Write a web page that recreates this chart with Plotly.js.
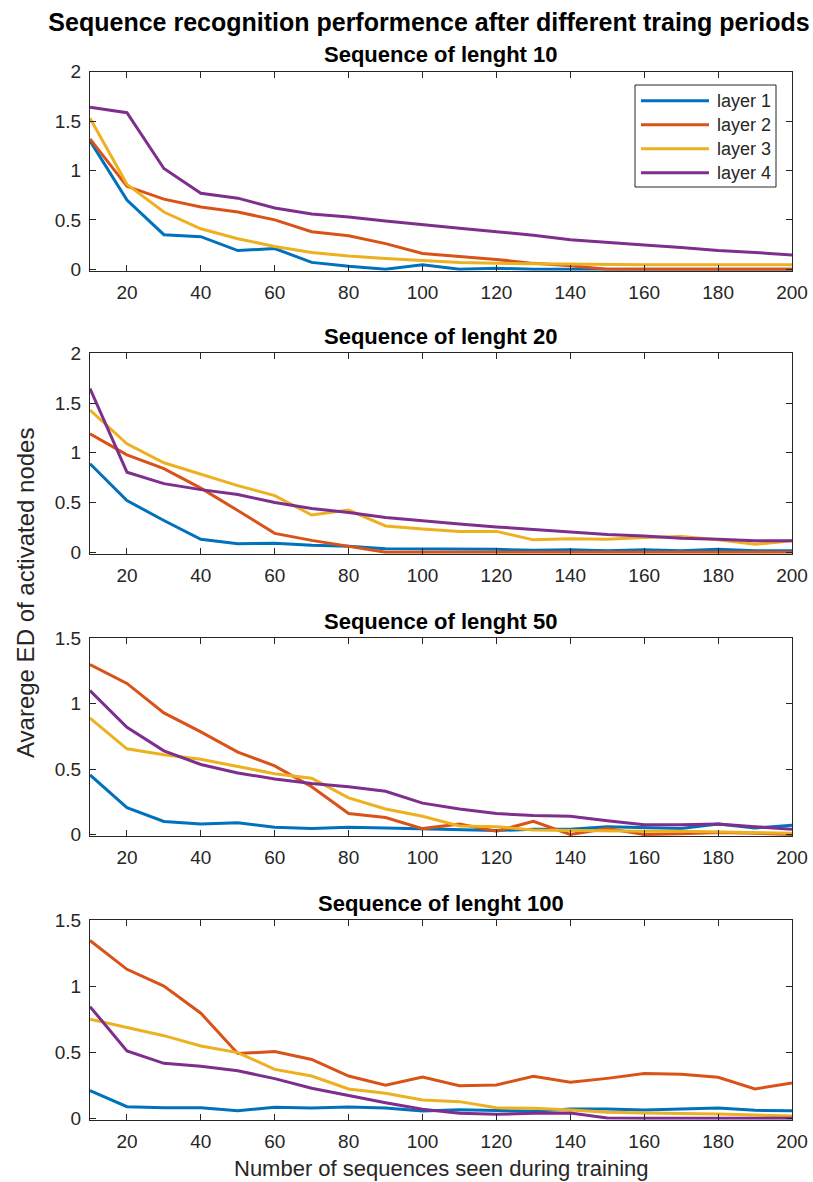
<!DOCTYPE html>
<html>
<head>
<meta charset="utf-8">
<script src="https://cdn.plot.ly/plotly-3.0.1.min.js"></script>
<style>html,body{margin:0;padding:0;background:#fff;}#chart{width:813px;height:1182px;}</style>
</head>
<body>
<div id="chart"></div>
<script>
// ---------------- data ----------------
const sequencesSeen = [10,20,30,40,50,60,70,80,90,100,110,120,130,140,150,160,170,180,190,200];
const layerNames = ["layer 1","layer 2","layer 3","layer 4"];
const layerColors = ["#0072BD","#D95319","#EDB120","#7E2F8E"];
const panelTitles = ["Sequence of lenght 10","Sequence of lenght 20","Sequence of lenght 50","Sequence of lenght 100"];
const mainTitle = "Sequence recognition performence after different traing periods";
const xLabel = "Number of sequences seen during training";
const yLabel = "Avarege ED of activated nodes";
const xTicks = [20,40,60,80,100,120,140,160,180,200];
const yTicksA = [0,0.5,1,1.5,2];
const yTicksB = [0,0.5,1,1.5];

const len10_layer1 = [1.30,0.70,0.35,0.33,0.19,0.21,0.07,0.03,0.0,0.045,0.0,0.01,0.0,0.0,0.0,0.0,0.0,0.0,0.0,0.0];
const len10_layer2 = [1.32,0.84,0.71,0.63,0.58,0.50,0.38,0.34,0.26,0.16,0.13,0.10,0.06,0.035,0.0,0.0,0.0,0.0,0.0,0.0];
const len10_layer3 = [1.53,0.86,0.58,0.41,0.31,0.23,0.17,0.135,0.11,0.09,0.07,0.06,0.055,0.05,0.045,0.045,0.045,0.045,0.045,0.045];
const len10_layer4 = [1.64,1.585,1.02,0.77,0.72,0.62,0.56,0.53,0.49,0.45,0.415,0.38,0.345,0.30,0.27,0.245,0.22,0.19,0.17,0.145];

const len20_layer1 = [0.89,0.52,0.32,0.13,0.085,0.09,0.07,0.06,0.035,0.035,0.035,0.03,0.02,0.025,0.015,0.025,0.015,0.03,0.015,0.015];
const len20_layer2 = [1.19,0.98,0.84,0.645,0.42,0.19,0.12,0.057,0.0,0.0,0.0,0.0,0.0,0.0,0.0,0.0,0.0,0.0,0.0,0.0];
const len20_layer3 = [1.43,1.09,0.90,0.785,0.67,0.57,0.375,0.425,0.265,0.235,0.21,0.21,0.125,0.135,0.13,0.15,0.16,0.125,0.08,0.115];
const len20_layer4 = [1.645,0.805,0.69,0.63,0.58,0.50,0.44,0.40,0.35,0.315,0.285,0.255,0.23,0.205,0.18,0.165,0.14,0.13,0.115,0.115];

const len50_layer1 = [0.455,0.205,0.10,0.08,0.09,0.055,0.045,0.055,0.05,0.045,0.04,0.03,0.04,0.04,0.06,0.055,0.045,0.08,0.05,0.07];
const len50_layer2 = [1.30,1.155,0.93,0.785,0.63,0.525,0.365,0.16,0.13,0.045,0.08,0.025,0.10,0.0,0.045,0.0,0.005,0.015,0.01,0.0];
const len50_layer3 = [0.89,0.655,0.61,0.575,0.52,0.465,0.43,0.28,0.195,0.14,0.065,0.06,0.035,0.03,0.03,0.025,0.025,0.02,0.015,0.01];
const len50_layer4 = [1.10,0.82,0.64,0.535,0.47,0.425,0.39,0.365,0.33,0.24,0.195,0.16,0.145,0.14,0.105,0.075,0.075,0.08,0.06,0.04];

const len100_layer1 = [0.21,0.088,0.08,0.08,0.058,0.083,0.078,0.085,0.078,0.055,0.065,0.058,0.053,0.07,0.07,0.063,0.07,0.078,0.06,0.058];
const len100_layer2 = [1.345,1.127,1.0,0.795,0.49,0.505,0.445,0.32,0.25,0.313,0.247,0.252,0.318,0.272,0.302,0.338,0.333,0.31,0.222,0.267];
const len100_layer3 = [0.75,0.69,0.625,0.547,0.497,0.37,0.32,0.222,0.19,0.139,0.126,0.08,0.076,0.063,0.045,0.04,0.038,0.033,0.025,0.018];
const len100_layer4 = [0.845,0.51,0.416,0.393,0.36,0.30,0.227,0.17,0.118,0.068,0.038,0.03,0.038,0.04,0.003,0.0,0.0,0.0,0.0,0.0];

const yMaxes = [2,2,1.5,1.5];

// ---------------- build ----------------
const W = 813, H = 1182;
const panels = [
  [len10_layer1,len10_layer2,len10_layer3,len10_layer4],
  [len20_layer1,len20_layer2,len20_layer3,len20_layer4],
  [len50_layer1,len50_layer2,len50_layer3,len50_layer4],
  [len100_layer1,len100_layer2,len100_layer3,len100_layer4]
];
// plot-area pixel boxes (top, bottom)
const boxes = [[71.7,269.3],[353.3,552.3],[638.3,834.5],[920,1118.3]];
const xLeft = 90, xRight = 792;
const FONT = "Liberation Sans, Arial, Helvetica, sans-serif";
const AX = "#262626";
const LW = 3;
const pad = 1.4; // px below zero so lines lying on 0 are not half clipped

const traces = [];
panels.forEach((series, p) => {
  series.forEach((vals, i) => {
    traces.push({
      type: "scatter", mode: "lines",
      x: sequencesSeen, y: vals,
      name: layerNames[i],
      showlegend: false,
      line: {color: layerColors[i], width: LW},
      xaxis: p === 0 ? "x" : "x" + (p + 1),
      yaxis: p === 0 ? "y" : "y" + (p + 1),
      hoverinfo: "skip"
    });
  });
});

const layout = {
  width: W, height: H,
  margin: {l: 0, r: 0, t: 0, b: 0},
  paper_bgcolor: "#fff", plot_bgcolor: "#fff",
  font: {family: FONT, color: AX, size: 19},
  showlegend: false,
  title: {
    text: "<b>" + mainTitle + "</b>",
    font: {family: FONT, size: 25, color: "#000"},
    x: 429 / W, xanchor: "center", xref: "paper",
    y: 1 - 22 / H, yanchor: "middle", yref: "paper"
  },
  annotations: [],
  shapes: []
};

boxes.forEach((b, p) => {
  const sfx = p === 0 ? "" : String(p + 1);
  const yt = yMaxes[p] === 2 ? yTicksA : yTicksB;
  const pxPerUnit = (b[1] - b[0]) / yMaxes[p];
  layout["xaxis" + sfx] = {
    domain: [xLeft / W, xRight / W],
    anchor: "y" + sfx,
    range: [10, 200],
    tickvals: xTicks,
    ticktext: xTicks.map(String),
    ticks: "inside", ticklen: 6, tickwidth: 1, tickcolor: AX,
    showline: true, linecolor: AX, linewidth: 1, mirror: "ticks",
    showgrid: false, zeroline: false,
    tickfont: {family: FONT, size: 19, color: AX},
    ticklabelstandoff: 4
  };
  layout["yaxis" + sfx] = {
    domain: [1 - (b[1] + pad) / H, 1 - b[0] / H],
    anchor: "x" + sfx,
    range: [-pad / pxPerUnit, yMaxes[p]],
    tickvals: yt,
    ticktext: yt.map(String),
    ticks: "inside", ticklen: 6, tickwidth: 1, tickcolor: AX,
    showline: true, linecolor: AX, linewidth: 1, mirror: "ticks",
    showgrid: false, zeroline: false,
    tickfont: {family: FONT, size: 19, color: AX},
    ticklabelstandoff: 4
  };
  layout.annotations.push({
    text: "<b>" + panelTitles[p] + "</b>",
    xref: "paper", yref: "paper",
    x: (xLeft + xRight) / 2 / W, y: 1 - b[0] / H,
    xanchor: "center", yanchor: "middle", yshift: 17,
    showarrow: false,
    font: {family: FONT, size: 22, color: "#000"}
  });
});

// axis labels
layout.annotations.push({
  text: xLabel, xref: "paper", yref: "paper",
  x: (xLeft + xRight) / 2 / W, y: 1 - 1168 / H,
  xanchor: "center", yanchor: "middle", showarrow: false,
  font: {family: FONT, size: 22, color: AX}
});
layout.annotations.push({
  text: yLabel, xref: "paper", yref: "paper",
  x: 25 / W, y: 1 - 593 / H, textangle: -90,
  xanchor: "center", yanchor: "middle", showarrow: false,
  font: {family: FONT, size: 24, color: AX}
});

// legend box (drawn in panel 1)
const lgL = 635, lgR = 776, lgT = 85, lgB = 187;
layout.shapes.push({
  type: "rect", xref: "paper", yref: "paper",
  x0: lgL / W, x1: lgR / W, y0: 1 - lgB / H, y1: 1 - lgT / H,
  line: {color: AX, width: 1}, fillcolor: "#fff", layer: "above"
});
layerNames.forEach((nm, i) => {
  const yy = 1 - (100.7 + i * 24) / H;
  layout.shapes.push({
    type: "line", xref: "paper", yref: "paper",
    x0: 641 / W, x1: 709 / W, y0: yy, y1: yy,
    line: {color: layerColors[i], width: LW}, layer: "above"
  });
  layout.annotations.push({
    text: nm, xref: "paper", yref: "paper",
    x: 715 / W, y: yy, xanchor: "left", yanchor: "middle",
    showarrow: false, font: {family: FONT, size: 18, color: AX}
  });
});

Plotly.newPlot("chart", traces, layout, {displayModeBar: false, staticPlot: true});
</script>
</body>
</html>
